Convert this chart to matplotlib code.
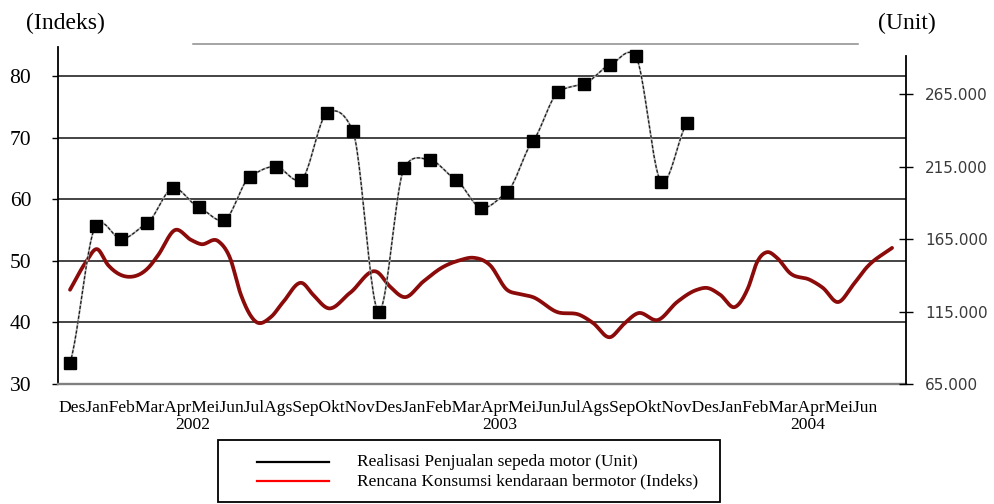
import numpy as np
import matplotlib
matplotlib.use("Agg")
import matplotlib.pyplot as plt
from matplotlib.lines import Line2D
from matplotlib.patches import Rectangle

plt.rcParams['font.family'] = ['Liberation Serif', 'DejaVu Sans']

# label bulan (Des 2001 - Jun 2004) dan tahun
bulan = ["Des", "Jan", "Feb", "Mar", "Apr", "Mei", "Jun", "Jul", "Ags", "Sep", "Okt", "Nov",
         "Des", "Jan", "Feb", "Mar", "Apr", "Mei", "Jun", "Jul", "Ags", "Sep", "Okt", "Nov",
         "Des", "Jan", "Feb", "Mar", "Apr", "Mei", "Jun"]
tahun = ["2002", "2003", "2004"]

# realisasi penjualan sepeda motor (unit), Des 2001 - Des 2003
penjualan = [79500, 174000, 165000, 176000, 200000, 187000, 178000, 208000, 215000,
             206000, 252000, 239500, 115000, 214000, 219500, 206000, 186500, 197500,
             232500, 266500, 272000, 285000, 291000, 204500, 245000]

# indeks rencana konsumsi: posisi bulan (0 = Des 2001) dan nilai
indeks_bulan = [0.0, 0.58, 0.98, 1.39, 2.19, 2.84, 3.21, 3.83, 4.41, 4.78, 5.40, 5.83,
                6.23, 6.78, 7.33, 7.77, 8.46, 8.86, 9.41, 10.21, 11.19, 11.67, 12.21,
                12.87, 13.60, 14.22, 14.69, 15.31, 15.93, 16.41, 16.88, 17.75, 18.59,
                19.07, 19.69, 20.16, 20.71, 21.44, 22.13, 22.86, 23.22, 23.70, 24.24,
                24.72, 25.05, 25.41, 25.77, 26.25, 26.98, 27.45, 28.00, 28.55, 29.06, 29.97]
indeks_nilai = [45.3, 49.8, 51.9, 49.3, 47.4, 48.8, 50.9, 55.0, 53.4, 52.7, 53.2, 50.5,
                44.5, 40.1, 40.9, 43.3, 46.4, 44.5, 42.3, 44.8, 48.2, 45.8, 44.1,
                46.6, 49.0, 50.1, 50.5, 49.3, 45.3, 44.6, 44.1, 41.7, 41.2,
                39.9, 37.6, 39.6, 41.5, 40.4, 43.3, 45.3, 45.6, 44.5, 42.5,
                45.6, 49.8, 51.4, 50.5, 48.0, 46.9, 45.6, 43.3, 46.1, 49.0, 52.1]

ticks_kiri = [30, 40, 50, 60, 70, 80]
ticks_kanan = [65000, 115000, 165000, 215000, 265000]


def smooth(x, y, n=24, tension=1.0):
    # garis halus (hermite) lewat titik data, seperti smoothed line di Excel
    x = np.asarray(x, float)
    y = np.asarray(y, float)
    m = np.gradient(y, x) * tension
    xs, ys = [], []
    t = np.linspace(0, 1, n, endpoint=False)
    h00 = 2 * t**3 - 3 * t**2 + 1
    h10 = t**3 - 2 * t**2 + t
    h01 = -2 * t**3 + 3 * t**2
    h11 = t**3 - t**2
    for i in range(len(x) - 1):
        h = x[i + 1] - x[i]
        xs.append(x[i] + t * h)
        ys.append(h00 * y[i] + h10 * h * m[i] + h01 * y[i + 1] + h11 * h * m[i + 1])
    xs.append([x[-1]])
    ys.append([y[-1]])
    return np.concatenate(xs), np.concatenate(ys)


W, H = 994, 504
fig = plt.figure(figsize=(W / 100, H / 100), dpi=100)


def fx(px):
    return px / W


def fy(py):
    return 1 - py / H


# sumbu kiri (indeks) + sumbu kanan (unit) sebagai axes terpisah
ax = fig.add_axes([fx(58), fy(384), fx(906) - fx(58), fy(47) - fy(384)])
ax2 = fig.add_axes([fx(58), fy(384), fx(906) - fx(58), fy(56) - fy(384)])
ax2.patch.set_alpha(0)

ax.set_xlim(-0.4375, 30.478)
ax.set_ylim(30, 84.71)
ax2.set_xlim(-0.4667, 32.516)
ax2.set_ylim(65000, 291207)

# garis merah - indeks
sx, sy = smooth(indeks_bulan, indeks_nilai)
ax.plot(sx, sy, color='#8b0a0a', lw=2.7, solid_capstyle='round', zorder=3)

# garis hitam - penjualan
px_, py_ = smooth(np.arange(len(penjualan)), penjualan, tension=0.6)
ax2.plot(px_, py_, color='#b5b5b5', lw=1.4, clip_on=False, zorder=3)
ax2.plot(px_, py_, color='#1a1a1a', lw=0.9, dashes=(2.5, 1.5), clip_on=False, zorder=3)
ax2.plot(np.arange(len(penjualan)), penjualan, ls='none', marker='s', ms=8.8,
         color='black', clip_on=False, zorder=4)

# sumbu kiri
ax.set_yticks(ticks_kiri)
ax.set_yticklabels([str(v) for v in ticks_kiri])
ax.set_xticks([])
ax.tick_params(axis='y', direction='out', length=4.3, width=1, pad=15, labelsize=15.5,
               colors='black')
ax.yaxis.grid(True, color='#111111', lw=1.1)
ax.set_axisbelow(True)
for s in ['top', 'right']:
    ax.spines[s].set_visible(False)
ax.spines['left'].set_linewidth(1.3)
ax.spines['bottom'].set_color('#808080')
ax.spines['bottom'].set_linewidth(1.7)

# sumbu kanan
ax2.yaxis.tick_right()
ax2.set_yticks(ticks_kanan)
ax2.set_yticklabels([f"{v:,}".replace(",", ".") for v in ticks_kanan])
ax2.set_xticks([])
ax2.tick_params(axis='y', direction='inout', length=9.4, width=1, pad=9, labelsize=11,
                labelcolor='#3a3a3a')
for lbl in ax2.get_yticklabels():
    lbl.set_family('DejaVu Sans')
for s in ['top', 'left', 'bottom']:
    ax2.spines[s].set_visible(False)
ax2.spines['right'].set_linewidth(1.3)

# judul sumbu
fig.text(fx(65), fy(23), '(Indeks)', ha='center', va='center', fontsize=17)
fig.text(fx(907), fy(23), '(Unit)', ha='center', va='center', fontsize=17)

# garis abu-abu di atas
fig.add_artist(Line2D([fx(193), fx(858)], [fy(44), fy(44)], color='#8c8c8c', lw=1.1))

# label bulan dan tahun
fig.text(fx(58), fy(408), ''.join(bulan), ha='left', va='center', fontsize=12.6)
for t, xp in zip(tahun, [193, 500, 808]):
    fig.text(fx(xp), fy(425), t, ha='center', va='center', fontsize=12.6)

# legenda
fig.add_artist(Rectangle((fx(218), fy(502)), fx(720) - fx(218), fy(440) - fy(502),
                         transform=fig.transFigure, fill=False, ec='black', lw=1.3))
fig.add_artist(Line2D([fx(257), fx(329)], [fy(462), fy(462)], color='black', lw=1.6))
fig.add_artist(Line2D([fx(257), fx(329)], [fy(481), fy(481)], color='#ff0000', lw=1.6))
fig.text(fx(357), fy(462), 'Realisasi Penjualan sepeda motor (Unit)', ha='left',
         va='center', fontsize=12.5)
fig.text(fx(357), fy(481), 'Rencana Konsumsi kendaraan bermotor (Indeks)', ha='left',
         va='center', fontsize=12.5)

fig.savefig('out.png', dpi=100)
